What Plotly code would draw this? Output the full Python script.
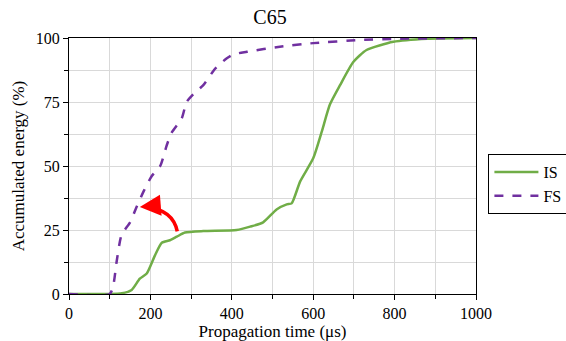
import plotly.graph_objects as go

# IS (green, solid)
is_time = [0, 100, 130, 154, 174, 191, 211, 228, 248, 265, 285, 330, 412, 445, 477, 510, 535,
           547, 568, 600, 621, 641, 666, 699, 731, 797, 880, 1000]
is_energy = [0, 0, 0.3, 1.6, 6, 8, 15, 20, 21, 22.4, 24, 24.6, 25, 26.3, 28, 33, 35,
             35.4, 44, 53, 63.4, 74, 81.6, 90.7, 95.3, 98.5, 99.7, 100]

# FS (purple, dashed)
fs_time = [0, 100, 109, 117, 129, 150, 166, 183, 203, 224, 240, 252, 277, 289, 305, 330, 359,
           387, 404, 437, 518, 600, 715, 813, 1000]
fs_energy = [0, 0, 3.5, 12.6, 23, 28, 34, 40, 46, 50, 58, 63, 68.6, 75, 78, 81.6, 88,
             92, 93.6, 94.6, 96.6, 98, 99.2, 99.7, 100]

x_ticks = [0, 200, 400, 600, 800, 1000]
y_ticks = [0, 25, 50, 75, 100]

# arrow annotation (start on IS, tip at FS)
arrow_start = (266, 24.5)
arrow_ctrl = (255, 33)
arrow_tip = (174, 34)

FONT = "Liberation Serif, Times New Roman, serif"

fig = go.Figure()
fig.add_trace(go.Scatter(x=is_time, y=is_energy, name="IS", mode="lines",
                         line=dict(color="#70AD47", width=2.5, shape="spline", smoothing=0.6)))
fig.add_trace(go.Scatter(x=fs_time, y=fs_energy, name="FS", mode="lines",
                         line=dict(color="#7030A0", width=2.5, dash="dash", shape="spline", smoothing=0.6)))

# curved red arrow
fig.add_shape(type="path", xref="x", yref="y",
              path=f"M {arrow_start[0]},{arrow_start[1]} Q {arrow_ctrl[0]},{arrow_ctrl[1]} {arrow_tip[0]+14},{arrow_tip[1]}",
              line=dict(color="#FF0000", width=3.5))
fig.add_annotation(x=arrow_tip[0], y=arrow_tip[1], ax=arrow_tip[0] + 24, ay=arrow_tip[1] + 0.3,
                   xref="x", yref="y", axref="x", ayref="y", text="", showarrow=True,
                   arrowhead=2, arrowsize=1.2, arrowwidth=3.5, arrowcolor="#FF0000")

axis_common = dict(showline=True, linecolor="black", linewidth=1.3, mirror=True,
                   ticks="outside", ticklen=5, tickcolor="black",
                   showgrid=True, gridcolor="#D9D9D9", gridwidth=1,
                   zeroline=False, tickfont=dict(family=FONT, size=16, color="black"))

fig.update_xaxes(range=[0, 1000], tickvals=x_ticks,
                 minor=dict(dtick=100, tick0=0, ticks="outside", ticklen=4, tickcolor="black",
                            showgrid=True, gridcolor="#D9D9D9"),
                 title=dict(text="Propagation time (μs)", font=dict(family=FONT, size=17, color="black"),
                            standoff=0),
                 **axis_common)
fig.update_yaxes(range=[0, 100], tickvals=y_ticks,
                 minor=dict(dtick=12.5, tick0=0, ticks="outside", ticklen=4, tickcolor="black",
                            showgrid=True, gridcolor="#D9D9D9"),
                 title=dict(text="Accumulated energy (%)", font=dict(family=FONT, size=17, color="black"),
                            standoff=6),
                 **axis_common)

fig.update_layout(
    width=566, height=341,
    margin=dict(l=69, r=90, t=38, b=47, autoexpand=False),
    paper_bgcolor="white", plot_bgcolor="white",
    font=dict(family=FONT, color="black"),
    title=dict(text="C65", x=0.477, xanchor="center", y=0.95, yanchor="middle",
               font=dict(family=FONT, size=20, color="black")),
    legend=dict(x=1.03, y=0.43, xanchor="left", yanchor="middle",
                bordercolor="black", borderwidth=1.2, bgcolor="white",
                font=dict(family=FONT, size=16, color="black"),
                tracegroupgap=2, itemwidth=44),
    showlegend=True,
)

fig.write_html("out.html")
